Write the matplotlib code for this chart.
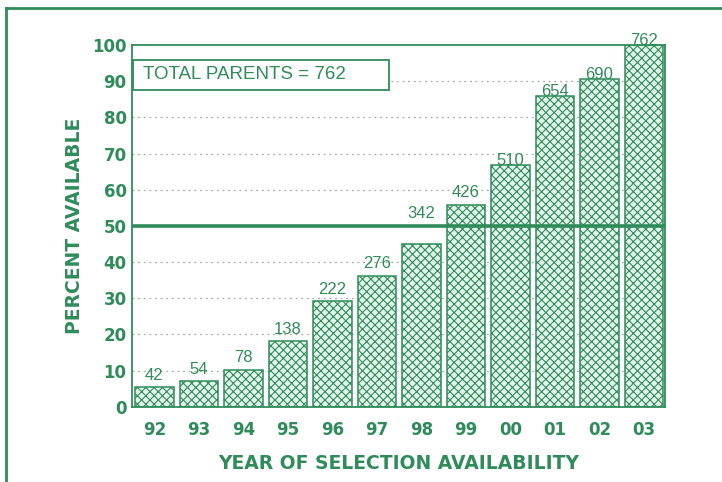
import numpy as np
import matplotlib
matplotlib.use("Agg")
import matplotlib.pyplot as plt
from matplotlib.lines import Line2D
from matplotlib.patches import Rectangle

years = ["92", "93", "94", "95", "96", "97", "98", "99", "00", "01", "02", "03"]
parents = [42, 54, 78, 138, 222, 276, 342, 426, 510, 654, 690, 762]
total = 762

green = "#2f8c5a"
face = "#e4f6ec"

plt.rcParams['font.family'] = ['Liberation Sans', 'DejaVu Sans']
plt.rcParams['hatch.linewidth'] = 0.8
bold = dict(family="DejaVu Sans", fontweight="bold")

pct = np.array(parents) / total * 100
x = np.arange(len(years))

fig = plt.figure(figsize=(7.22, 4.82), dpi=100)
ax = fig.add_axes([0.183, 0.156, 0.738, 0.7506])

# dotted guide lines behind the bars
for g in [10, 20, 30, 40, 60, 70, 80, 90]:
    ax.axhline(g, color="#aaaaaa", lw=0.9, ls=(0, (1.5, 3)), zorder=0)

ax.bar(x, pct, width=0.87, color=face, edgecolor=green, hatch="xxxx",
       linewidth=1.1, zorder=2)

# 50 percent line
ax.axhline(50, color=green, lw=2.6, zorder=4)

for i, (v, n) in enumerate(zip(pct, parents)):
    dy = 1.2
    if n == 342:
        dy = 6.5
    elif n >= 510:
        dy = -0.8
    ax.text(i, v + dy, str(n), ha="center", va="bottom", color=green,
            fontsize=12, zorder=5)

# total box in upper left
ax.add_patch(Rectangle((-0.47, 87.6), 5.75, 8.3, facecolor="white",
                       edgecolor=green, lw=1.3, zorder=3))
ax.text(-0.25, 91.8, "TOTAL PARENTS = 762", ha="left", va="center",
        color=green, fontsize=13.5, zorder=5)

ax.set_xlim(-0.5, 11.47)
ax.set_ylim(0, 100)
ax.set_yticks(range(0, 101, 10))
ax.set_xticks(x)
ax.set_xticklabels(years)
ax.tick_params(length=0, labelcolor=green)
ax.tick_params(axis="x", pad=10)
ax.tick_params(axis="y", pad=4)
for lab in ax.get_xticklabels() + ax.get_yticklabels():
    lab.set_family("DejaVu Sans")
    lab.set_fontweight("bold")
    lab.set_fontsize(12)

for s in ax.spines.values():
    s.set_color(green)
    s.set_linewidth(1.3)

ax.set_xlabel("YEAR OF SELECTION AVAILABILITY", color=green, fontsize=13.5,
              labelpad=11, **bold)
ax.set_ylabel("PERCENT AVAILABLE", color=green, fontsize=13.5,
              labelpad=6, **bold)

# outer frame lines
top = 1 - 8 / 482
fig.add_artist(Line2D([0.008, 1.0], [top, top], color=green, lw=2.0,
                      transform=fig.transFigure))
fig.add_artist(Line2D([0.008, 0.008], [0.0, top], color=green, lw=2.0,
                      transform=fig.transFigure))

fig.savefig("out.png", dpi=100)
